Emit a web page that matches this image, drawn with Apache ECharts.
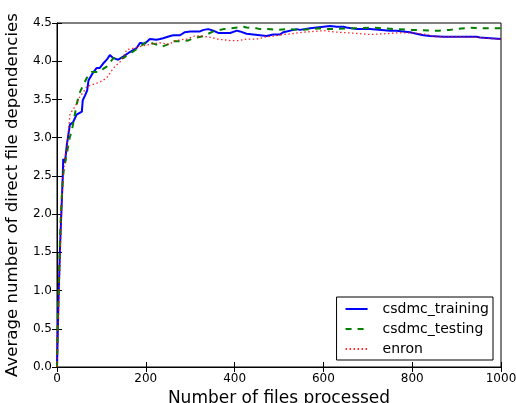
<!DOCTYPE html>
<html>
<head>
<meta charset="utf-8">
<script src="https://cdn.jsdelivr.net/npm/echarts@6/dist/echarts.min.js"></script>
<style>html,body{margin:0;padding:0;background:#fff}#c{width:516px;height:403px}</style>
</head>
<body>
<div id="c"></div>
<script>
var xTicks = [0, 200, 400, 600, 800, 1000];
var yTicks = [0.0, 0.5, 1.0, 1.5, 2.0, 2.5, 3.0, 3.5, 4.0, 4.5];

var trainX = [0, 2, 3, 5, 7, 9, 11, 12, 13, 14, 18, 22, 29, 36, 44, 50, 56, 58, 63, 68, 71, 80, 89, 96, 104, 112, 119, 127, 138, 149, 164, 179, 187, 198, 209, 224, 232, 239, 255, 262, 277, 281, 288, 300, 322, 330, 341, 352, 363, 367, 390, 405, 412, 427, 442, 457, 472, 487, 502, 510, 540, 547, 570, 600, 615, 630, 645, 652, 675, 705, 750, 765, 795, 802, 825, 840, 870, 900, 915, 945, 953, 1000];
var trainY = [0.0, 0.5, 0.8, 1.2, 1.6, 1.9, 2.2, 2.35, 2.5, 2.72, 2.68, 2.9, 3.17, 3.2, 3.3, 3.32, 3.34, 3.49, 3.55, 3.62, 3.75, 3.84, 3.91, 3.91, 3.97, 4.02, 4.08, 4.04, 4.02, 4.06, 4.12, 4.17, 4.24, 4.23, 4.29, 4.28, 4.29, 4.30, 4.33, 4.34, 4.34, 4.34, 4.38, 4.39, 4.39, 4.41, 4.42, 4.40, 4.37, 4.37, 4.37, 4.40, 4.39, 4.36, 4.35, 4.34, 4.33, 4.35, 4.35, 4.38, 4.42, 4.41, 4.43, 4.45, 4.46, 4.45, 4.45, 4.44, 4.42, 4.42, 4.40, 4.40, 4.38, 4.37, 4.34, 4.33, 4.32, 4.32, 4.32, 4.32, 4.31, 4.29];

var testX = [0, 2, 4, 6, 8, 10, 13, 16, 18, 24, 29, 33, 40, 46, 52, 60, 67, 72, 78, 87, 97, 104, 112, 120, 127, 138, 149, 164, 175, 187, 202, 217, 228, 236, 250, 262, 277, 281, 295, 307, 315, 330, 352, 375, 390, 420, 427, 450, 457, 475, 495, 520, 547, 570, 592, 615, 650, 680, 705, 735, 765, 800, 840, 860, 885, 930, 960, 990, 1000];
var testY = [0.0, 0.6, 1.1, 1.5, 1.9, 2.15, 2.45, 2.62, 2.66, 2.85, 3.01, 3.08, 3.3, 3.48, 3.6, 3.7, 3.78, 3.83, 3.86, 3.86, 3.86, 3.9, 3.93, 3.99, 4.04, 4.05, 4.04, 4.10, 4.14, 4.19, 4.26, 4.23, 4.21, 4.19, 4.22, 4.26, 4.26, 4.24, 4.27, 4.30, 4.31, 4.33, 4.39, 4.42, 4.43, 4.45, 4.44, 4.43, 4.42, 4.42, 4.41, 4.42, 4.41, 4.42, 4.43, 4.42, 4.43, 4.43, 4.44, 4.43, 4.42, 4.41, 4.40, 4.40, 4.41, 4.44, 4.43, 4.43, 4.43];

var enronX = [0, 3, 5, 7, 9, 11, 14, 18, 22, 26, 29, 35, 41, 52, 60, 67, 78, 89, 100, 112, 120, 127, 142, 150, 157, 172, 187, 200, 217, 232, 254, 262, 277, 292, 310, 322, 337, 350, 360, 375, 390, 410, 427, 450, 472, 490, 510, 530, 555, 580, 600, 615, 630, 660, 705, 740, 765, 802, 830, 855, 885, 915, 950, 990, 1000];
var enronY = [0.0, 0.6, 1.0, 1.4, 1.8, 2.15, 2.5, 2.75, 2.85, 3.1, 3.3, 3.36, 3.41, 3.54, 3.6, 3.67, 3.69, 3.71, 3.74, 3.78, 3.85, 3.91, 3.99, 4.06, 4.15, 4.17, 4.19, 4.21, 4.23, 4.24, 4.22, 4.26, 4.28, 4.29, 4.33, 4.33, 4.32, 4.31, 4.29, 4.28, 4.27, 4.27, 4.29, 4.29, 4.32, 4.33, 4.35, 4.36, 4.38, 4.39, 4.40, 4.39, 4.38, 4.37, 4.35, 4.36, 4.37, 4.37, 4.35, 4.32, 4.32, 4.32, 4.31, 4.29, 4.29];

function pairs(xs, ys) { return xs.map(function (x, i) { return [x, ys[i]]; }); }

var FONT = 'DejaVu Sans';
var chart = echarts.init(document.getElementById('c'), null, { renderer: 'canvas' });

var tickStyle = { show: true, inside: true, length: 5, lineStyle: { color: '#000', width: 1 } };
var baseAxisLine = { show: true, lineStyle: { color: '#000', width: 1 } };

chart.setOption({
  animation: false,
  backgroundColor: '#fff',
  textStyle: { fontFamily: FONT },
  grid: { left: 57, right: 15, top: 23, bottom: 36, show: true, borderColor: '#000', borderWidth: 1, containLabel: false, outerBoundsMode: 'none' },
  legend: {
    right: 23, bottom: 43,
    orient: 'vertical',
    backgroundColor: '#fff',
    borderColor: '#000', borderWidth: 1, borderRadius: 0,
    padding: [5, 4, 4, 8],
    itemGap: 6,
    itemWidth: 22, itemHeight: 15,
    itemStyle: { opacity: 0 },
    textStyle: { fontFamily: FONT, fontSize: 14, color: '#000', padding: [0, 0, 0, 10] },
    data: ['csdmc_training', 'csdmc_testing', 'enron']
  },
  xAxis: [{
    type: 'value', min: 0, max: 1000, interval: 200,
    axisLine: baseAxisLine, axisTick: tickStyle, splitLine: { show: false },
    axisLabel: { fontFamily: FONT, fontSize: 12, color: '#000', margin: 6,
      formatter: function (v) { return xTicks.indexOf(v) >= 0 ? String(v) : ''; } },
    name: 'Number of files processed', nameLocation: 'middle', nameGap: 23,
    nameTextStyle: { fontFamily: FONT, fontSize: 17, color: '#000' }
  }, {
    type: 'value', min: 0, max: 1000, interval: 200, position: 'top',
    axisLine: baseAxisLine, axisTick: tickStyle, axisLabel: { show: false }, splitLine: { show: false }
  }],
  yAxis: [{
    type: 'value', min: 0, max: 4.5, interval: 0.5,
    axisLine: baseAxisLine, axisTick: tickStyle, splitLine: { show: false },
    axisLabel: { fontFamily: FONT, fontSize: 12, color: '#000', margin: 5,
      formatter: function (v) { return yTicks[Math.round(v * 2)].toFixed(1); } },
    name: 'Average number of direct file dependencies', nameLocation: 'middle', nameGap: 36,
    nameTextStyle: { fontFamily: FONT, fontSize: 16.6, color: '#000' }
  }, {
    type: 'value', min: 0, max: 4.5, interval: 0.5, position: 'right',
    axisLine: baseAxisLine, axisTick: tickStyle, axisLabel: { show: false }, splitLine: { show: false }
  }],
  series: [{
    name: 'csdmc_training', type: 'line', showSymbol: false, symbol: 'none',
    data: pairs(trainX, trainY), z: 3,
    itemStyle: { color: '#0000ff' },
    lineStyle: { color: '#0000ff', width: 2 }
  }, {
    name: 'csdmc_testing', type: 'line', showSymbol: false, symbol: 'none',
    data: pairs(testX, testY), z: 4,
    itemStyle: { color: '#008000' },
    lineStyle: { color: '#008000', width: 2, type: [6, 6] }
  }, {
    name: 'enron', type: 'line', showSymbol: false, symbol: 'none',
    data: pairs(enronX, enronY), z: 5,
    itemStyle: { color: '#ff0000' },
    lineStyle: { color: '#ff0000', width: 1.3, type: [1.5, 2.5], opacity: 0.85 }
  }]
});
</script>
</body>
</html>
